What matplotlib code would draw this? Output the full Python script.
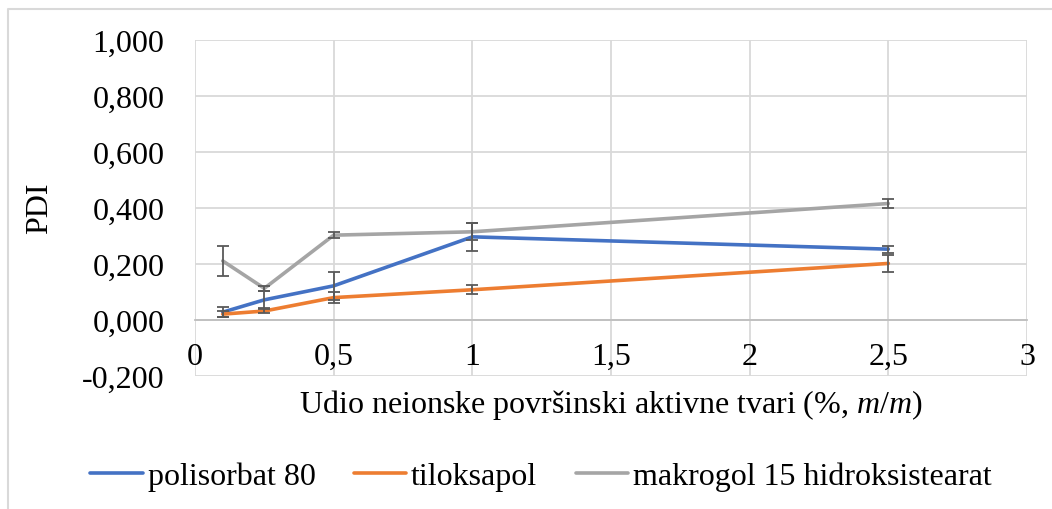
import matplotlib
matplotlib.use("Agg")
import matplotlib.pyplot as plt
from matplotlib.lines import Line2D

# data
udio = [0.1, 0.25, 0.5, 1, 2.5]
polisorbat = [0.028, 0.072, 0.122, 0.297, 0.253]
polisorbat_err = [0.018, 0.03, 0.05, 0.05, 0.013]
tiloksapol = [0.021, 0.032, 0.080, 0.108, 0.202]
tiloksapol_err = [0.01, 0.006, 0.02, 0.016, 0.03]
makrogol = [0.211, 0.113, 0.303, 0.315, 0.416]
makrogol_err = [0.055, 0.01, 0.01, 0.03, 0.016]

y_ticks = [-0.2, 0.0, 0.2, 0.4, 0.6, 0.8, 1.0]
y_labels = ["-0,200", "0,000", "0,200", "0,400", "0,600", "0,800", "1,000"]
x_ticks = [0, 0.5, 1, 1.5, 2, 2.5, 3]
x_labels = ["0", "0,5", "1", "1,5", "2", "2,5", "3"]

plt.rcParams["font.family"] = "Liberation Serif"
plt.rcParams["mathtext.fontset"] = "custom"
plt.rcParams["mathtext.rm"] = "Liberation Serif"
plt.rcParams["mathtext.it"] = "Liberation Serif:italic"

FS = 23
W, H = 1052, 510

fig = plt.figure(figsize=(W / 100, H / 100), dpi=100)
ax = fig.add_axes([195 / W, 1 - 377 / H, (1027 - 195) / W, (377 - 41) / H])

series = [
    (polisorbat, polisorbat_err, "#4472C4", "polisorbat 80"),
    (tiloksapol, tiloksapol_err, "#ED7D31", "tiloksapol"),
    (makrogol, makrogol_err, "#A5A5A5", "makrogol 15 hidroksistearat"),
]
for vals, err, col, lab in series:
    ax.plot(udio, vals, color=col, lw=2.6, label=lab, zorder=3,
            solid_capstyle="round")
for vals, err, col, lab in series:
    ax.errorbar(udio, vals, yerr=err, fmt="none", ecolor="#595959",
                elinewidth=1.3, capsize=4.5, capthick=1.3, zorder=4)

# spine position first, it resets the tick settings
for s in ["top", "right", "left"]:
    ax.spines[s].set_visible(False)
ax.spines["bottom"].set_position(("data", 0))
ax.spines["bottom"].set_color("#bfbfbf")
ax.spines["bottom"].set_linewidth(1.3)

ax.set_xlim(0, 3)
ax.set_ylim(-0.2, 1.0)
ax.set_yticks(y_ticks)
ax.set_yticklabels(y_labels, fontsize=FS)
ax.set_xticks(x_ticks)
ax.set_xticklabels(x_labels, fontsize=FS)
ax.tick_params(axis="both", length=0)
ax.tick_params(axis="y", pad=22)
ax.tick_params(axis="x", pad=16)

ax.grid(True, color="#d9d9d9", lw=1.3, zorder=0)
ax.set_axisbelow(True)

fig.text(611 / W, 1 - 405 / H, "Udio neionske površinski aktivne tvari (%, $m/m$)",
         ha="center", va="center", fontsize=FS)
fig.text(40 / W, 1 - 208 / H, "PDI", ha="center", va="center",
         rotation=90, fontsize=FS)

fig.legend(loc="center", bbox_to_anchor=(541 / W, 1 - 477 / H), ncol=3,
           frameon=False, fontsize=FS, handlelength=1.65, handletextpad=0.15,
           columnspacing=1.2)

# outer chart border (left and top visible in the crop)
fig.add_artist(Line2D([8 / W, 8 / W, 1.01], [-0.01, 1 - 10 / H, 1 - 10 / H],
                      transform=fig.transFigure, color="#d9d9d9", lw=1.5))

fig.savefig("out.png", dpi=100)
